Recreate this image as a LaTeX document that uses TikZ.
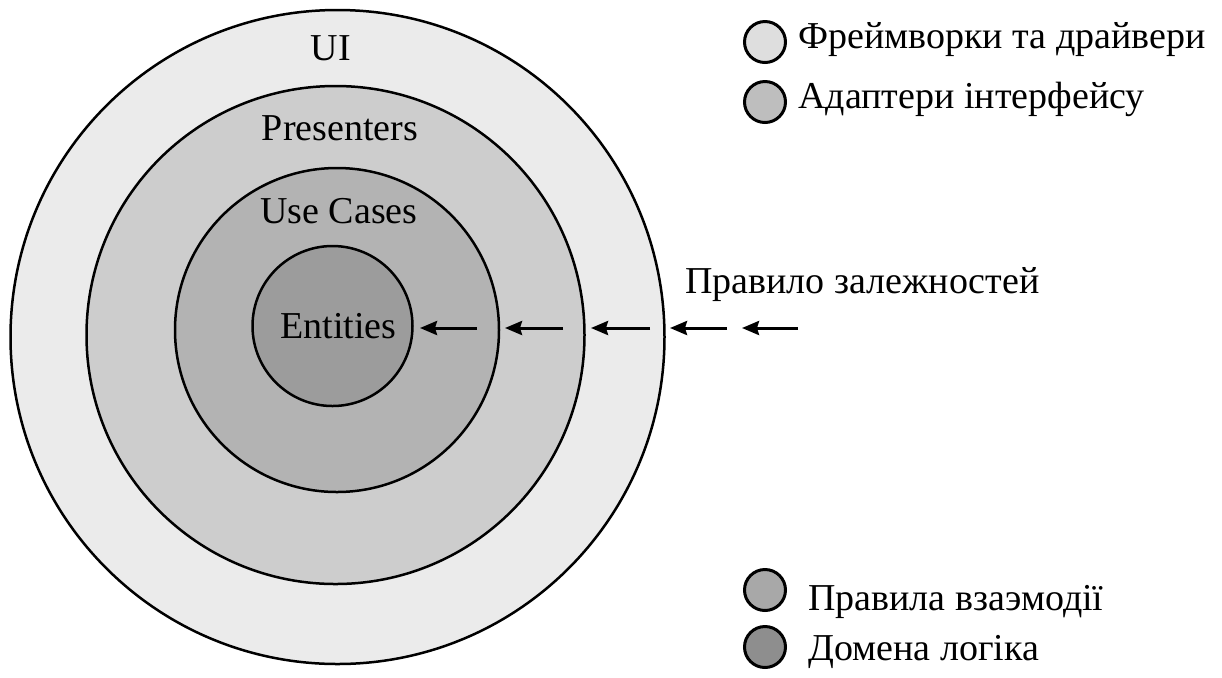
\documentclass[tikz,border=0pt]{standalone}
\usepackage{fontspec}
\setmainfont{Liberation Serif}
\usetikzlibrary{arrows.meta}
\definecolor{ringA}{HTML}{EBEBEB}
\definecolor{ringB}{HTML}{CDCDCD}
\definecolor{ringC}{HTML}{B3B3B3}
\definecolor{ringD}{HTML}{9C9C9C}
\definecolor{keyA}{HTML}{DEDEDE}
\definecolor{keyB}{HTML}{BEBEBE}
\definecolor{keyC}{HTML}{A8A8A8}
\definecolor{keyD}{HTML}{8E8E8E}
\begin{document}
\begin{tikzpicture}[x=0.5pt,y=-0.5pt,
  ring/.style={circle, draw=black, line width=1.25pt, inner sep=0pt},
  lbl/.style={anchor=base, inner sep=0pt, font=\fontsize{19}{21}\selectfont},
  legdot/.style={circle, draw=black, line width=1.5pt, minimum size=20.5pt, inner sep=0pt},
  legtxt/.style={anchor=base west, inner sep=0pt, font=\fontsize{19}{21}\selectfont},
  dep/.style={line width=1.5pt, -{Stealth[length=8.5pt,width=7pt,inset=1pt]}}]
\useasboundingbox (0,0) rectangle (1222,677);

% concentric layers
\node[ring, fill=ringA, minimum size=327pt] (frameworks) at (337.5,337) {};
\node[ring, fill=ringB, minimum size=249pt] (adapters) at (335.5,335) {};
\node[ring, fill=ringC, minimum size=162pt] (usecases) at (337,330) {};
\node[ring, fill=ringD, minimum size=80pt] (entities) at (332.5,326) {};

% layer names
\node[lbl] (tUI) at (331,60) {UI};
\node[lbl] (tPres) at (340,140) {Presenters};
\node[lbl] (tUse) at (339,223) {Use Cases};
\node[lbl] (tEnt) at (338.5,338) {Entities};

% dependency rule arrows
\coordinate (a1s) at (477,328); \coordinate (a1e) at (420,328);
\coordinate (a2s) at (563,328); \coordinate (a2e) at (505,328);
\coordinate (a3s) at (650,328); \coordinate (a3e) at (591,328);
\coordinate (a4s) at (727,328); \coordinate (a4e) at (670,328);
\coordinate (a5s) at (798,328); \coordinate (a5e) at (742,328);
\draw[dep] (a1s) -- (a1e);
\draw[dep] (a2s) -- (a2e);
\draw[dep] (a3s) -- (a3e);
\draw[dep] (a4s) -- (a4e);
\draw[dep] (a5s) -- (a5e);
\node[legtxt] (rule) at (685,293) {Правило залежностей};

% legend
\node[legdot, fill=keyA] (kA) at (765,42) {};
\node[legtxt] (kAt) at (798,48) {Фреймворки та драйвери};
\node[legdot, fill=keyB] (kB) at (765,102) {};
\node[legtxt] (kBt) at (798,108) {Адаптери інтерфейсу};
\node[legdot, fill=keyC] (kC) at (765,590) {};
\node[legtxt] (kCt) at (808,610) {Правила взаэмодії};
\node[legdot, fill=keyD] (kD) at (765,647) {};
\node[legtxt] (kDt) at (808,660) {Домена логіка};
\end{tikzpicture}
\end{document}
